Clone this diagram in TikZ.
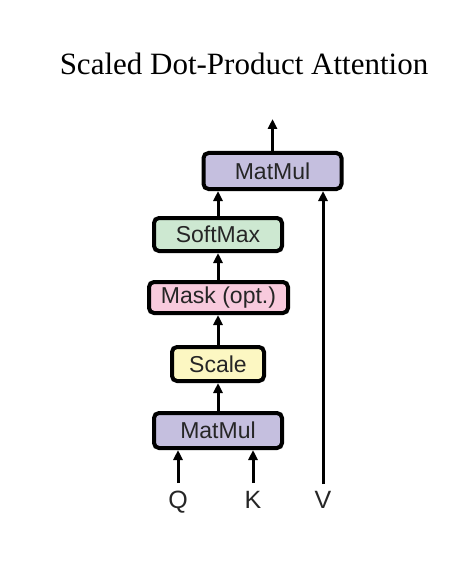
\documentclass[tikz,border=0pt]{standalone}
\usepackage{fontspec}
\setmainfont{Liberation Serif}
\newfontfamily\boxfont{Liberation Sans}
\usetikzlibrary{arrows.meta}
\definecolor{lav}{RGB}{197,191,223}
\definecolor{mint}{RGB}{205,232,209}
\definecolor{rose}{RGB}{248,202,221}
\definecolor{butter}{RGB}{252,247,194}
\tikzset{
  opbox/.style={draw=black, line width=4pt, rounded corners=5pt, inner sep=0pt,
    font=\boxfont\fontsize{23}{26}\selectfont, text=black!85},
  flow/.style={line width=3pt, -{Triangle[width=9pt,length=10pt]}},
  inlabel/.style={font=\boxfont\fontsize{25}{28}\selectfont, text=black!85, anchor=base, inner sep=0pt}
}
\begin{document}
\begin{tikzpicture}[x=1pt,y=-1pt]
\useasboundingbox (0,0) rectangle (448,588);
\fill[white] (0,0) rectangle (448,588);
\node[anchor=base, font=\fontsize{31}{34}\selectfont] (title) at (244,75) {Scaled Dot-Product Attention};

\node[opbox, fill=lav, minimum width=138pt, minimum height=36pt] (mm2) at (272.5,171) {MatMul};
\node[opbox, fill=mint, minimum width=128pt, minimum height=33pt] (sm) at (218,234.5) {SoftMax};
\node[opbox, fill=rose, minimum width=139pt, minimum height=31pt] (mask) at (218.5,297.5) {Mask (opt.)};
\node[opbox, fill=butter, minimum width=92pt, minimum height=34pt] (sc) at (218,364) {Scale};
\node[opbox, fill=lav, minimum width=128pt, minimum height=35pt] (mm1) at (218,430.5) {MatMul};

\node[inlabel] (q) at (178,508) {Q};
\node[inlabel] (k) at (253,508) {K};
\node[inlabel] (v) at (323,508) {V};

\coordinate (qs) at (178,483);
\coordinate (ks) at (253,483);
\coordinate (vs) at (323,484);
\coordinate (out) at (272.5,119);

\draw[flow] (qs) -- (qs |- mm1.south);
\draw[flow] (ks) -- (ks |- mm1.south);
\draw[flow] (mm1.north) -- (sc.south);
\draw[flow] (sc.north) -- (mask.south -| sc.north);
\draw[flow] (mask.north -| sc.north) -- (sm.south);
\draw[flow] (sm.north) -- (sm.north |- mm2.south);
\draw[flow] (vs) -- (vs |- mm2.south);
\draw[flow] (mm2.north) -- (out);
\end{tikzpicture}
\end{document}
